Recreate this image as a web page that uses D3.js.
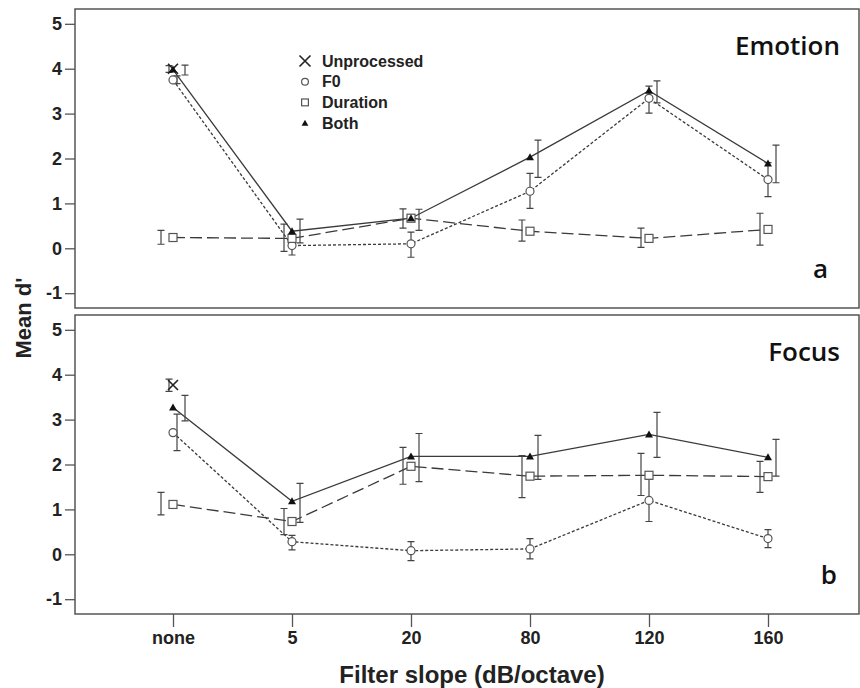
<!DOCTYPE html>
<html>
<head>
<meta charset="utf-8">
<script src="https://cdn.jsdelivr.net/npm/d3@7"></script>
<style>
  body { margin: 0; background: #fff; }
  svg text { font-family: "Liberation Sans", Arial, sans-serif; }
  .panel-title { font-family: "Open Sans", sans-serif !important; font-weight: 600; font-size: 26px; fill: #111; }
</style>
</head>
<body>
<div id="chart"></div>
<script>
// categories on the x axis
const categories = ["none", "5", "20", "80", "120", "160"];
const seriesNames = ["Unprocessed", "F0", "Duration", "Both"];
// order in which error bars are dodged at each category
const dodgeOrder = ["Duration", "Unprocessed", "F0", "Both"];
const yTicks = [-1, 0, 1, 2, 3, 4, 5];

// each entry: [mean, lower, upper]; null = no data
const emotionUnprocessed = [[4.00, 3.92, 4.07], null, null, null, null, null];
const emotionF0 = [[3.75, 3.67, 3.84], [0.06, -0.15, 0.28], [0.10, -0.20, 0.36], [1.27, 0.89, 1.67], [3.34, 3.01, 3.61], [1.53, 1.15, 1.91]];
const emotionDuration = [[0.24, 0.09, 0.40], [0.22, -0.07, 0.54], [0.67, 0.45, 0.88], [0.38, 0.16, 0.63], [0.22, 0.02, 0.45], [0.42, 0.07, 0.78]];
const emotionBoth = [[3.98, 3.86, 4.08], [0.38, 0.12, 0.65], [0.67, 0.40, 0.87], [2.03, 1.58, 2.41], [3.51, 3.24, 3.73], [1.89, 1.46, 2.30]];

const focusUnprocessed = [[3.77, 3.63, 3.90], null, null, null, null, null];
const focusF0 = [[2.71, 2.31, 3.12], [0.28, 0.10, 0.42], [0.08, -0.14, 0.28], [0.12, -0.10, 0.35], [1.20, 0.73, 1.67], [0.35, 0.15, 0.55]];
const focusDuration = [[1.11, 0.88, 1.38], [0.73, 0.44, 1.02], [1.96, 1.56, 2.38], [1.74, 1.26, 2.20], [1.76, 1.31, 2.25], [1.73, 1.38, 2.07]];
const focusBoth = [[3.27, 2.97, 3.54], [1.18, 0.71, 1.58], [2.18, 1.62, 2.69], [2.18, 1.67, 2.65], [2.67, 2.16, 3.16], [2.16, 1.74, 2.56]];

const width = 860, height = 688;
const plotLeft = 75, plotRight = 859;
const panels = [
    { title: "Emotion", letter: "a", top: 9, bottom: 308,
      data: { Unprocessed: emotionUnprocessed, F0: emotionF0, Duration: emotionDuration, Both: emotionBoth } },
    { title: "Focus", letter: "b", top: 315, bottom: 614,
      data: { Unprocessed: focusUnprocessed, F0: focusF0, Duration: focusDuration, Both: focusBoth } }
];

const lineColor = "#3a3a3a";
const dashes = { Unprocessed: null, F0: "3,2", Duration: "12,5", Both: null };

const svg = d3.select("#chart").append("svg")
    .attr("width", width)
    .attr("height", height);

const x = d3.scalePoint().domain(categories).range([173, 768]);

// marker drawing helper
function drawMarker(g, name, cx, cy, scale) {
    const s = scale || 1;
    if (name === "Unprocessed") {
        const h = 5 * s;
        g.append("path")
            .attr("d", `M${cx - h},${cy - h}L${cx + h},${cy + h}M${cx - h},${cy + h}L${cx + h},${cy - h}`)
            .attr("stroke", "#222").attr("stroke-width", 1.6).attr("fill", "none");
    } else if (name === "F0") {
        g.append("circle").attr("cx", cx).attr("cy", cy).attr("r", 4 * s)
            .attr("fill", "#fff").attr("stroke", "#555").attr("stroke-width", 1.2);
    } else if (name === "Duration") {
        const h = 4 * s;
        g.append("rect").attr("x", cx - h).attr("y", cy - h).attr("width", 2 * h).attr("height", 2 * h)
            .attr("fill", "#fff").attr("stroke", "#555").attr("stroke-width", 1.2);
    } else {
        const h = 4 * s;
        g.append("path")
            .attr("d", `M${cx},${cy - h}L${cx + h},${cy + h * 0.75}L${cx - h},${cy + h * 0.75}Z`)
            .attr("fill", "#111");
    }
}

panels.forEach(p => {
    const y = d3.scaleLinear().domain([-1.33, 5.33]).range([p.bottom, p.top]);
    const g = svg.append("g");

    // frame
    g.append("rect")
        .attr("x", plotLeft).attr("y", p.top)
        .attr("width", plotRight - plotLeft).attr("height", p.bottom - p.top)
        .attr("fill", "none").attr("stroke", "#555").attr("stroke-width", 1.5);

    // y axis
    const yAxis = g.append("g")
        .attr("transform", `translate(${plotLeft},0)`)
        .call(d3.axisLeft(y).tickValues(yTicks).tickSize(10).tickPadding(3).tickFormat(d => String(d)));
    yAxis.select(".domain").remove();
    yAxis.selectAll("line").attr("stroke", "#555").attr("stroke-width", 1.3);
    yAxis.selectAll("text").attr("font-size", 18).attr("font-weight", "bold").attr("fill", "#222")
        .attr("font-family", "Liberation Sans, Arial, sans-serif");

    // lines
    seriesNames.forEach(name => {
        const vals = p.data[name];
        const pts = categories.map((c, i) => ({ c, v: vals[i] })).filter(d => d.v);
        if (pts.length < 2) return;
        g.append("path")
            .datum(pts)
            .attr("fill", "none")
            .attr("stroke", lineColor)
            .attr("stroke-width", 1.3)
            .attr("stroke-dasharray", dashes[name])
            .attr("d", d3.line().x(d => x(d.c)).y(d => y(d.v[0])));
    });

    // error bars, dodged per category
    categories.forEach((c, i) => {
        const present = dodgeOrder.filter(n => p.data[n][i]);
        const dodge = d3.scalePoint().domain(present)
            .range([-(present.length - 1) * 4, (present.length - 1) * 4]);
        present.forEach(n => {
            const [, lo, hi] = p.data[n][i];
            const ex = x(c) + dodge(n);
            g.append("path")
                .attr("d", `M${ex},${y(lo)}V${y(hi)}M${ex - 3.5},${y(lo)}H${ex + 3.5}M${ex - 3.5},${y(hi)}H${ex + 3.5}`)
                .attr("stroke", "#444").attr("stroke-width", 1.2).attr("fill", "none");
        });
    });

    // markers
    seriesNames.forEach(name => {
        p.data[name].forEach((v, i) => {
            if (v) drawMarker(g, name, x(categories[i]), y(v[0]));
        });
    });

    // panel labels
    g.append("text").attr("class", "panel-title")
        .attr("x", 840).attr("y", p.top + 46).attr("text-anchor", "end").text(p.title);
    g.append("text").attr("class", "panel-title")
        .attr("x", p.letter === "a" ? 828 : 837).attr("y", p.bottom - 30).attr("text-anchor", "end").text(p.letter);
});

// x axis under the bottom panel
const xAxis = svg.append("g")
    .attr("transform", `translate(0,${panels[1].bottom})`)
    .call(d3.axisBottom(x).tickSize(13).tickPadding(4));
xAxis.select(".domain").remove();
xAxis.selectAll("line").attr("stroke", "#555").attr("stroke-width", 1.3);
xAxis.selectAll("text").attr("font-size", 18).attr("font-weight", "bold").attr("fill", "#222")
    .attr("font-family", "Liberation Sans, Arial, sans-serif");

// axis titles
svg.append("text")
    .attr("x", 472).attr("y", 683)
    .attr("text-anchor", "middle")
    .attr("font-size", 24).attr("font-weight", "bold").attr("fill", "#222")
    .text("Filter slope (dB/octave)");

svg.append("text")
    .attr("transform", "rotate(-90)")
    .attr("x", -318).attr("y", 31)
    .attr("text-anchor", "middle")
    .attr("font-size", 22).attr("font-weight", "bold").attr("fill", "#222")
    .text("Mean d'");

// legend
const legend = svg.append("g").attr("transform", "translate(305,61)");
seriesNames.forEach((name, i) => {
    const row = legend.append("g").attr("transform", `translate(0,${i * 20.7})`);
    drawMarker(row, name, 0, 0, name === "Unprocessed" ? 1.1 : 0.85);
    row.append("text")
        .attr("x", 17).attr("y", 0).attr("dy", "0.35em")
        .attr("font-size", 16).attr("font-weight", "bold").attr("fill", "#222")
        .text(name);
});
</script>
</body>
</html>
